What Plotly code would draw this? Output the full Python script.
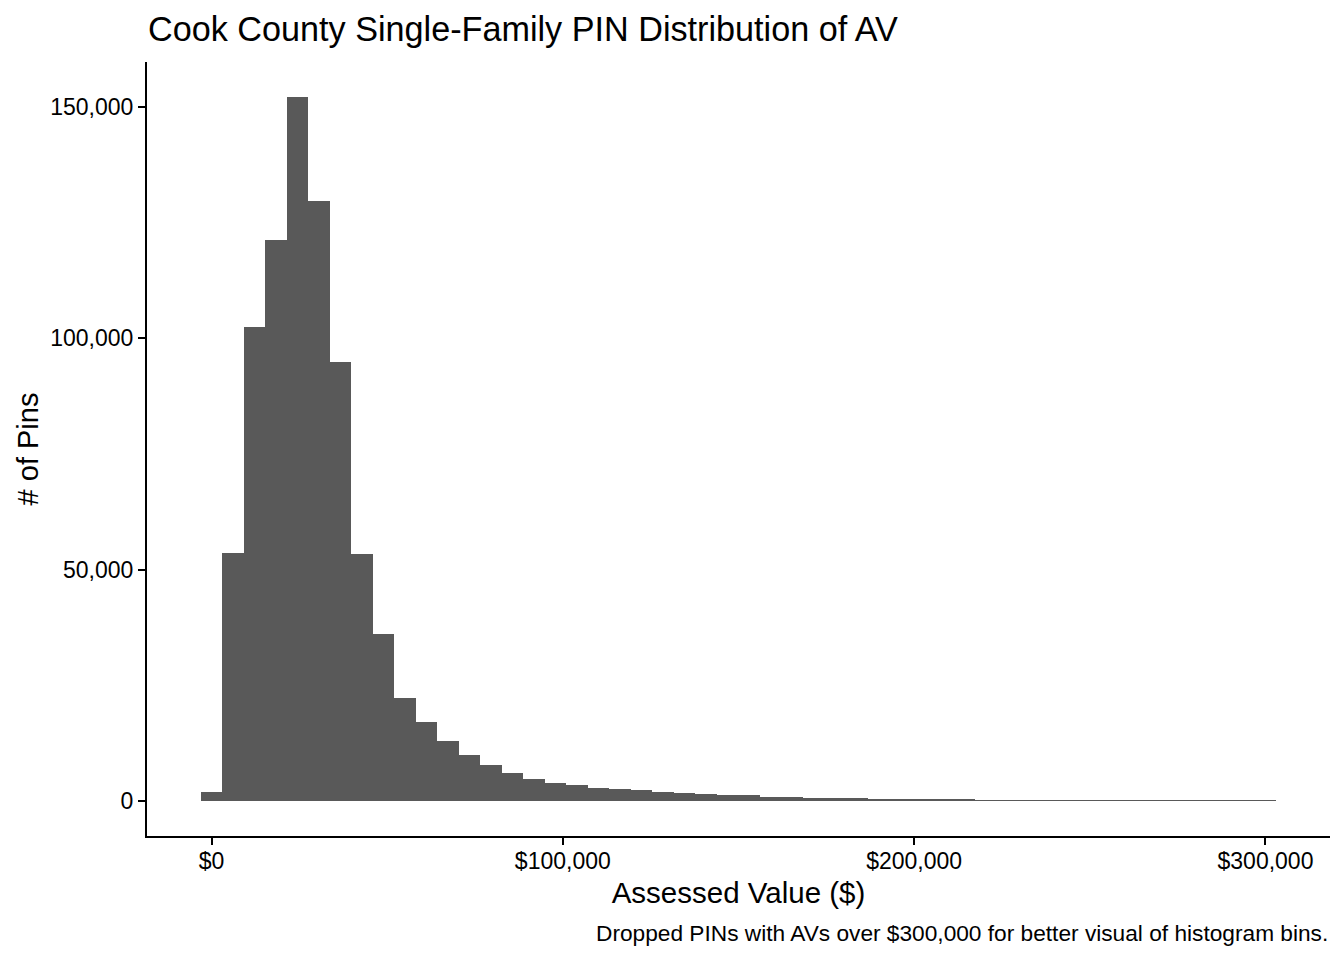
import numpy as np
import plotly.graph_objects as go

# histogram of assessed values, 50 bins
bin_count = 50
av_min = 0
av_max = 300000
pin_counts = [
    1900, 53600, 102400, 121200, 152100, 129600, 94800, 53400, 36100, 22300,
    17100, 13000, 9900, 7800, 6000, 4750, 3900, 3500, 2800, 2600,
    2400, 1950, 1700, 1500, 1300, 1250, 900, 850, 680, 650,
    600, 420, 400, 380, 350, 330, 170, 160, 150, 140,
    135, 130, 125, 120, 115, 110, 105, 100, 95, 90,
]
x_tick_vals = [0, 100000, 200000, 300000]
x_tick_text = ['$0', '$100,000', '$200,000', '$300,000']
y_tick_vals = [0, 50000, 100000, 150000]
y_tick_text = ['0', '50,000', '100,000', '150,000']

# ggplot style bins: centres from min to max, width = range / (bins - 1)
bin_width = (av_max - av_min) / (bin_count - 1)
bin_centers = av_min + bin_width * np.arange(bin_count)

bar_color = '#595959'
font_family = 'Liberation Sans, Arial, sans-serif'

fig = go.Figure()

fig.add_trace(go.Bar(
    x=bin_centers,
    y=pin_counts,
    width=bin_width,
    marker=dict(color=bar_color, line=dict(width=0)),
    showlegend=False,
))

# 5% expansion like ggplot
x_lo = av_min - bin_width / 2
x_hi = av_max + bin_width / 2
x_pad = (x_hi - x_lo) * 0.05
y_pad = max(pin_counts) * 0.05

fig.update_layout(
    width=1344,
    height=960,
    margin=dict(l=139, r=22, t=54, b=132),
    plot_bgcolor='white',
    paper_bgcolor='white',
    font=dict(family=font_family, color='black'),
    bargap=0,
    title=dict(
        text='Cook County Single-Family PIN Distribution of AV',
        font=dict(size=34.2, color='black'),
        xref='container', x=140 / 1344, xanchor='left',
        yref='container', y=1 - 21 / 960, yanchor='middle',
    ),
    xaxis=dict(
        range=[x_lo - x_pad, x_hi + x_pad],
        tickvals=x_tick_vals,
        ticktext=x_tick_text,
        tickfont=dict(size=23, color='black'),
        ticks='outside', ticklen=7, tickwidth=2, tickcolor='black',
        ticklabelstandoff=-4,
        showline=True, linewidth=2, linecolor='black',
        showgrid=False, zeroline=False,
        title=dict(text='Assessed Value ($)', font=dict(size=29.5, color='black'), standoff=10),
    ),
    yaxis=dict(
        range=[-y_pad, max(pin_counts) + y_pad],
        tickvals=y_tick_vals,
        ticktext=y_tick_text,
        tickfont=dict(size=23, color='black'),
        ticks='outside', ticklen=7, tickwidth=2, tickcolor='black',
        showline=True, linewidth=2, linecolor='black',
        showgrid=False, zeroline=False,
        title=dict(text='# of Pins', font=dict(size=29, color='black'), standoff=3),
    ),
    annotations=[dict(
        text='Dropped PINs with AVs over $300,000 for better visual of histogram bins.',
        xref='paper', yref='paper', x=1, y=0,
        xanchor='right', yanchor='middle',
        yshift=-(933 - 836),
        showarrow=False,
        font=dict(size=22.7, color='black'),
    )],
)

fig.write_html('out.html')
